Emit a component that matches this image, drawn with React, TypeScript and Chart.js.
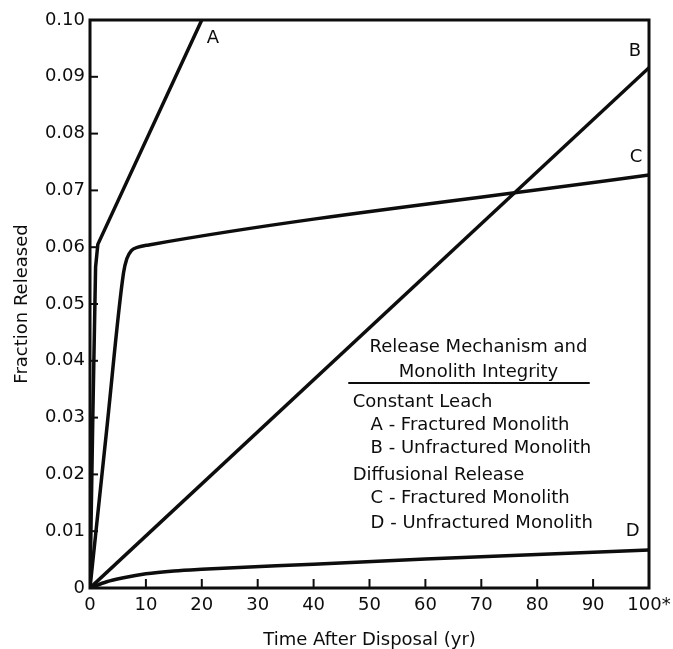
import React, { useEffect, useRef } from "react";
import { Chart, registerables } from "chart.js";

Chart.register(...registerables);

// Curve A: constant leach, fractured monolith
const tA = [0, 0.5, 1.0, 1.4, 20];
const yA = [0, 0.03, 0.0565, 0.0605, 0.1];
// Curve B: constant leach, unfractured monolith
const tB = [0, 100];
const yB = [0, 0.0916];
// Curve C: diffusional release, fractured monolith
const tC = [0, 3, 6.0, 6.6, 7.4, 8.6, 10.5, 100];
const yC = [0, 0.028, 0.0555, 0.0580, 0.0594, 0.0600, 0.0604, 0.0727];
// Curve D: diffusional release, unfractured monolith
const tD = [0, 3, 6, 10, 15, 20, 40, 60, 80, 100];
const yD = [0, 0.0011, 0.0018, 0.0025, 0.0030, 0.0033, 0.0042, 0.0051, 0.0059, 0.0067];

const xTicks = [0, 10, 20, 30, 40, 50, 60, 70, 80, 90, 100];
const xTickLabels = ["0", "10", "20", "30", "40", "50", "60", "70", "80", "90", "100*"];
const yTicks = [0, 0.01, 0.02, 0.03, 0.04, 0.05, 0.06, 0.07, 0.08, 0.09, 0.1];
const yTickLabels = ["0", "0.01", "0.02", "0.03", "0.04", "0.05", "0.06", "0.07", "0.08", "0.09", "0.10"];

const curveLabels = ["A", "B", "C", "D"];
const curveLabelT = [22.0, 97.5, 97.7, 97.1];
const curveLabelY = [0.0968, 0.0944, 0.0759, 0.0099];

const legendLines = [
  "Release Mechanism and",
  "Monolith Integrity",
  "Constant Leach",
  "A - Fractured Monolith",
  "B - Unfractured Monolith",
  "Diffusional Release",
  "C - Fractured Monolith",
  "D - Unfractured Monolith",
];
const legendAlign = ["center", "center", "left", "left", "left", "left", "left", "left"];
const legendT = [69.5, 69.5, 47.0, 50.2, 50.2, 47.0, 50.2, 50.2];
const legendY = [0.0424, 0.0380, 0.0327, 0.0287, 0.0246, 0.0199, 0.0158, 0.0114];
const legendRuleT = [46.2, 89.4];
const legendRuleY = 0.0361;

const FONT = "'DejaVu Sans', sans-serif";
const INK = "#0d0d0d";

function pts(t: number[], y: number[]) {
  return t.map((v, i) => ({ x: v, y: y[i] }));
}

const decorPlugin = {
  id: "decor",
  afterDatasetsDraw(chart: any) {
    const ctx = chart.ctx;
    const xs = chart.scales.x;
    const ys = chart.scales.y;
    const ca = chart.chartArea;
    ctx.save();
    // frame
    ctx.strokeStyle = INK;
    ctx.lineWidth = 3;
    ctx.strokeRect(ca.left, ca.top, ca.right - ca.left, ca.bottom - ca.top);
    // inward ticks
    ctx.lineWidth = 2;
    xTicks.forEach((v) => {
      if (v === 0 || v === 100) return;
      const px = xs.getPixelForValue(v);
      ctx.beginPath();
      ctx.moveTo(px, ca.bottom);
      ctx.lineTo(px, ca.bottom - 9);
      ctx.stroke();
    });
    yTicks.forEach((v) => {
      if (v === 0 || v === 0.1) return;
      const py = ys.getPixelForValue(v);
      ctx.beginPath();
      ctx.moveTo(ca.left, py);
      ctx.lineTo(ca.left + 8, py);
      ctx.stroke();
    });
    // curve labels
    ctx.fillStyle = INK;
    ctx.font = `18px ${FONT}`;
    ctx.textAlign = "center";
    ctx.textBaseline = "middle";
    curveLabels.forEach((s, i) => {
      ctx.fillText(s, xs.getPixelForValue(curveLabelT[i]), ys.getPixelForValue(curveLabelY[i]));
    });
    // legend text
    legendLines.forEach((s, i) => {
      ctx.textAlign = legendAlign[i] as CanvasTextAlign;
      ctx.fillText(s, xs.getPixelForValue(legendT[i]), ys.getPixelForValue(legendY[i]));
    });
    ctx.lineWidth = 2;
    ctx.beginPath();
    const ry = ys.getPixelForValue(legendRuleY);
    ctx.moveTo(xs.getPixelForValue(legendRuleT[0]), ry);
    ctx.lineTo(xs.getPixelForValue(legendRuleT[1]), ry);
    ctx.stroke();
    ctx.restore();
  },
};

export default function App() {
  const ref = useRef<HTMLCanvasElement | null>(null);
  useEffect(() => {
    if (!ref.current) return;
    const line = (t: number[], y: number[], smooth: boolean) => ({
      data: pts(t, y),
      borderColor: INK,
      borderWidth: 3.5,
      pointRadius: 0,
      showLine: true,
      fill: false,
      tension: smooth ? 0.4 : 0,
      cubicInterpolationMode: smooth ? ("monotone" as const) : ("default" as const),
    });
    const chart = new Chart(ref.current, {
      type: "scatter",
      data: {
        datasets: [
          line(tA, yA, false),
          line(tB, yB, false),
          line(tC, yC, true),
          line(tD, yD, true),
        ],
      },
      options: {
        animation: false,
        responsive: false,
        maintainAspectRatio: false,
        layout: { padding: { left: 0, right: 24, top: 20, bottom: 0 } },
        plugins: { legend: { display: false }, tooltip: { enabled: false } },
        scales: {
          x: {
            type: "linear",
            min: 0,
            max: 100,
            afterBuildTicks: (s: any) => {
              s.ticks = xTicks.map((v) => ({ value: v }));
            },
            ticks: {
              color: INK,
              font: { family: FONT, size: 18 },
              padding: 7,
              maxRotation: 0,
              autoSkip: false,
              callback: (v: any) => xTickLabels[xTicks.indexOf(Number(v))] ?? "",
            },
            grid: { display: false, drawTicks: false },
            border: { display: false },
            title: {
              display: true,
              text: "Time After Disposal (yr)",
              color: INK,
              font: { family: FONT, size: 18, lineHeight: 1.0 },
              padding: { top: 0, bottom: 0 },
            },
            afterFit: (s: any) => {
              s.height = 61;
              s.paddingRight = 0;
              s.paddingLeft = 0;
            },
          },
          y: {
            type: "linear",
            min: 0,
            max: 0.1,
            afterBuildTicks: (s: any) => {
              s.ticks = yTicks.map((v) => ({ value: v }));
            },
            ticks: {
              color: INK,
              font: { family: FONT, size: 18 },
              padding: 5,
              autoSkip: false,
              callback: (v: any) => {
                const i = yTicks.findIndex((t) => Math.abs(t - Number(v)) < 1e-9);
                return i >= 0 ? yTickLabels[i] : "";
              },
            },
            grid: { display: false, drawTicks: false },
            border: { display: false },
            title: {
              display: true,
              text: "Fraction Released",
              color: INK,
              font: { family: FONT, size: 18, lineHeight: 1.0 },
              padding: { top: 13, bottom: 0 },
            },
            afterFit: (s: any) => {
              s.width = 90;
              s.paddingTop = 0;
              s.paddingBottom = 0;
            },
          },
        },
      },
      plugins: [decorPlugin],
    });
    return () => chart.destroy();
  }, []);
  return (
    <div style={{ position: "fixed", left: 0, top: 0, width: 673, height: 649, background: "#fff" }}>
      <canvas ref={ref} width={673} height={649} style={{ display: "block" }} />
    </div>
  );
}
